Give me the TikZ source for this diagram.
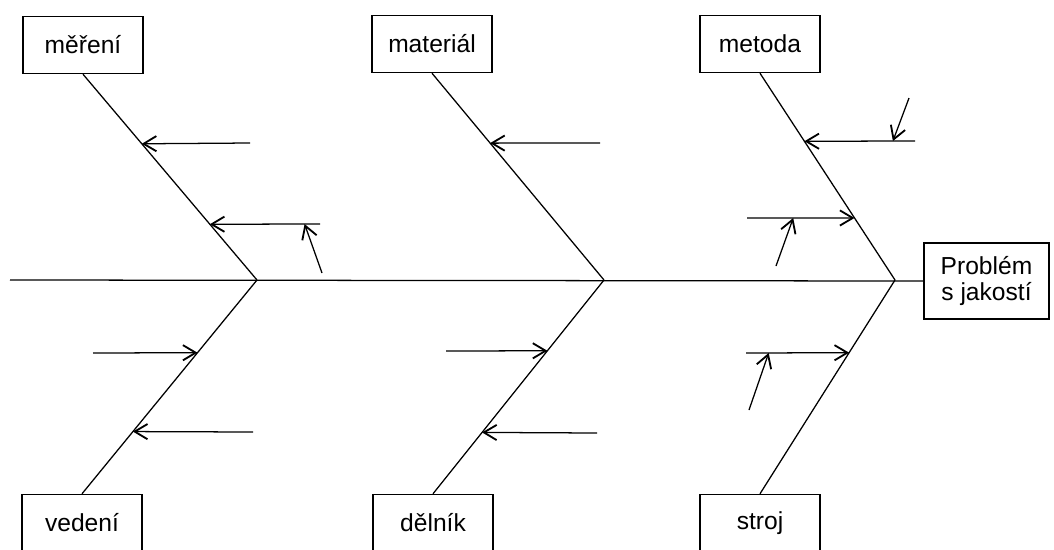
\documentclass[tikz,border=0pt]{standalone}
\usepackage{fontspec}
\setmainfont{Liberation Sans}
\usepackage{tikz}
\usetikzlibrary{arrows.meta, positioning, calc}

\begin{document}
\begin{tikzpicture}[x=0.25mm, y=-0.25mm, line width=0.9pt,
    cause/.style={draw, line width=0.9pt, minimum width=30mm, minimum height=14.3mm,
      inner sep=2pt, font=\fontsize{17.5}{19}\selectfont},
    sub/.style={-{Straight Barb[length=3.2mm,width=3.8mm,line width=1.3pt]}}]
  \useasboundingbox (0,0) rectangle (1054,549);

  % hlava a páteř
  \node[cause, minimum width=31.25mm, minimum height=19mm, align=center] (problem) at (986.5,281) {Problém\\s jakostí};
  \coordinate (tail) at (10,280);
  \coordinate (j1) at (257,280);
  \coordinate (j2) at (604,280);
  \coordinate (j3) at (895,280);
  \draw (tail) -- (problem.west);

  % kategorie příčin
  \node[cause] (mereni)   at (83,45)   {měření};
  \node[cause] (material) at (432,44)  {materiál};
  \node[cause] (metoda)   at (760,44)  {metoda};
  \node[cause] (vedeni)   at (82,523)  {vedení};
  \node[cause] (delnik)   at (433,523) {dělník};
  \node[cause] (stroj)    at (760,523) {stroj};

  % kosti
  \draw (mereni.south) -- coordinate[pos=.338] (a1) coordinate[pos=.729] (a2) (j1);
  \draw (material.south) -- coordinate[pos=.338] (b1) (j2);
  \draw (metoda.south) -- coordinate[pos=.329] (c1) coordinate[pos=.70] (c2) (j3);
  \draw (vedeni.north) -- coordinate[pos=.66] (d1) coordinate[pos=.291] (d2) (j1);
  \draw (delnik.north) -- coordinate[pos=.669] (e1) coordinate[pos=.287] (e2) (j2);
  \draw (stroj.north) -- coordinate[pos=.66] (f1) (j3);

  % dílčí příčiny
  \coordinate (a1t) at (250,143);
  \coordinate (a2t) at (320,224);
  \coordinate (a2u) at (322,273);
  \coordinate (b1t) at (600,143);
  \coordinate (c1t) at (915,141);
  \coordinate (c1u) at (909,98);
  \coordinate (c2t) at (747,218);
  \coordinate (c2u) at (776,266);
  \coordinate (d1t) at (93,353);
  \coordinate (d2t) at (253,432);
  \coordinate (e1t) at (446,351);
  \coordinate (e2t) at (597,433);
  \coordinate (f1t) at (746,353);
  \coordinate (f1u) at (749,410);

  \draw[sub] (a1t) -- (a1);
  \draw[sub] (a2t) -- coordinate[pos=.14] (a2s) (a2);
  \draw[sub] (a2u) -- (a2s);
  \draw[sub] (b1t) -- (b1);
  \draw[sub] (c1t) -- coordinate[pos=.2] (c1s) (c1);
  \draw[sub] (c1u) -- (c1s);
  \draw[sub] (c2t) -- coordinate[pos=.43] (c2s) (c2);
  \draw[sub] (c2u) -- (c2s);
  \draw[sub] (d1t) -- (d1);
  \draw[sub] (d2t) -- (d2);
  \draw[sub] (e1t) -- (e1);
  \draw[sub] (e2t) -- (e2);
  \draw[sub] (f1t) -- coordinate[pos=.22] (f1s) (f1);
  \draw[sub] (f1u) -- (f1s);
\end{tikzpicture}
\end{document}
